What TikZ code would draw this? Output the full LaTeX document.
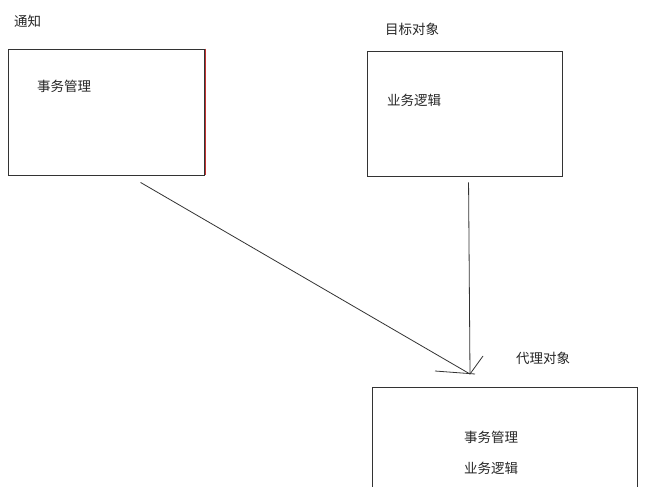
\documentclass[tikz,border=0pt]{standalone}
\usepackage{fontspec}
\newfontfamily\cjk{Noto Sans CJK SC}
\begin{document}
\begin{tikzpicture}[x=1pt,y=1pt,
  box/.style={draw=black!80,line width=0.9pt,rectangle,inner sep=0pt},
  lbl/.style={font=\cjk\fontsize{13.5}{15}\selectfont,inner sep=0pt,anchor=west,text=black!85},
  conn/.style={draw=black!80,line width=0.8pt}]
\useasboundingbox (0,0) rectangle (645,-487);
\clip (0,0) rectangle (645,-487);
\fill[white] (0,0) rectangle (645,-487);
% boxes
\node[box,minimum width=196,minimum height=126] (b1) at (106.5,-112) {};
\draw[red!70!black!80,line width=0.7pt] (b1.north east) -- (b1.south east);
\node[box,minimum width=195,minimum height=125] (b2) at (464.5,-113.5) {};
\node[box,minimum width=265,minimum height=160,anchor=north west] (b3) at (372,-387) {};
% labels
\node[lbl] (t1) at (14,-21) {通知};
\node[lbl] (t2) at (37,-86) {事务管理};
\node[lbl] (t3) at (385,-29) {目标对象};
\node[lbl] (t4) at (387,-100) {业务逻辑};
\node[lbl] (t5) at (516,-358) {代理对象};
\node[lbl] (t6) at (464,-437) {事务管理};
\node[lbl] (t7) at (464,-468) {业务逻辑};
% connectors
\coordinate (tip) at (470,-374);
\draw[conn] ([shift={(132.5,-7)}]b1.south west) -- (tip);
\draw[conn] ([shift={(102,-6)}]b2.south west) -- (tip);
\draw[conn] (tip) -- ([shift={(13,18)}]tip);
\draw[conn] ([shift={(-35,3)}]tip) -- ([shift={(5,0)}]tip);
\end{tikzpicture}
\end{document}
